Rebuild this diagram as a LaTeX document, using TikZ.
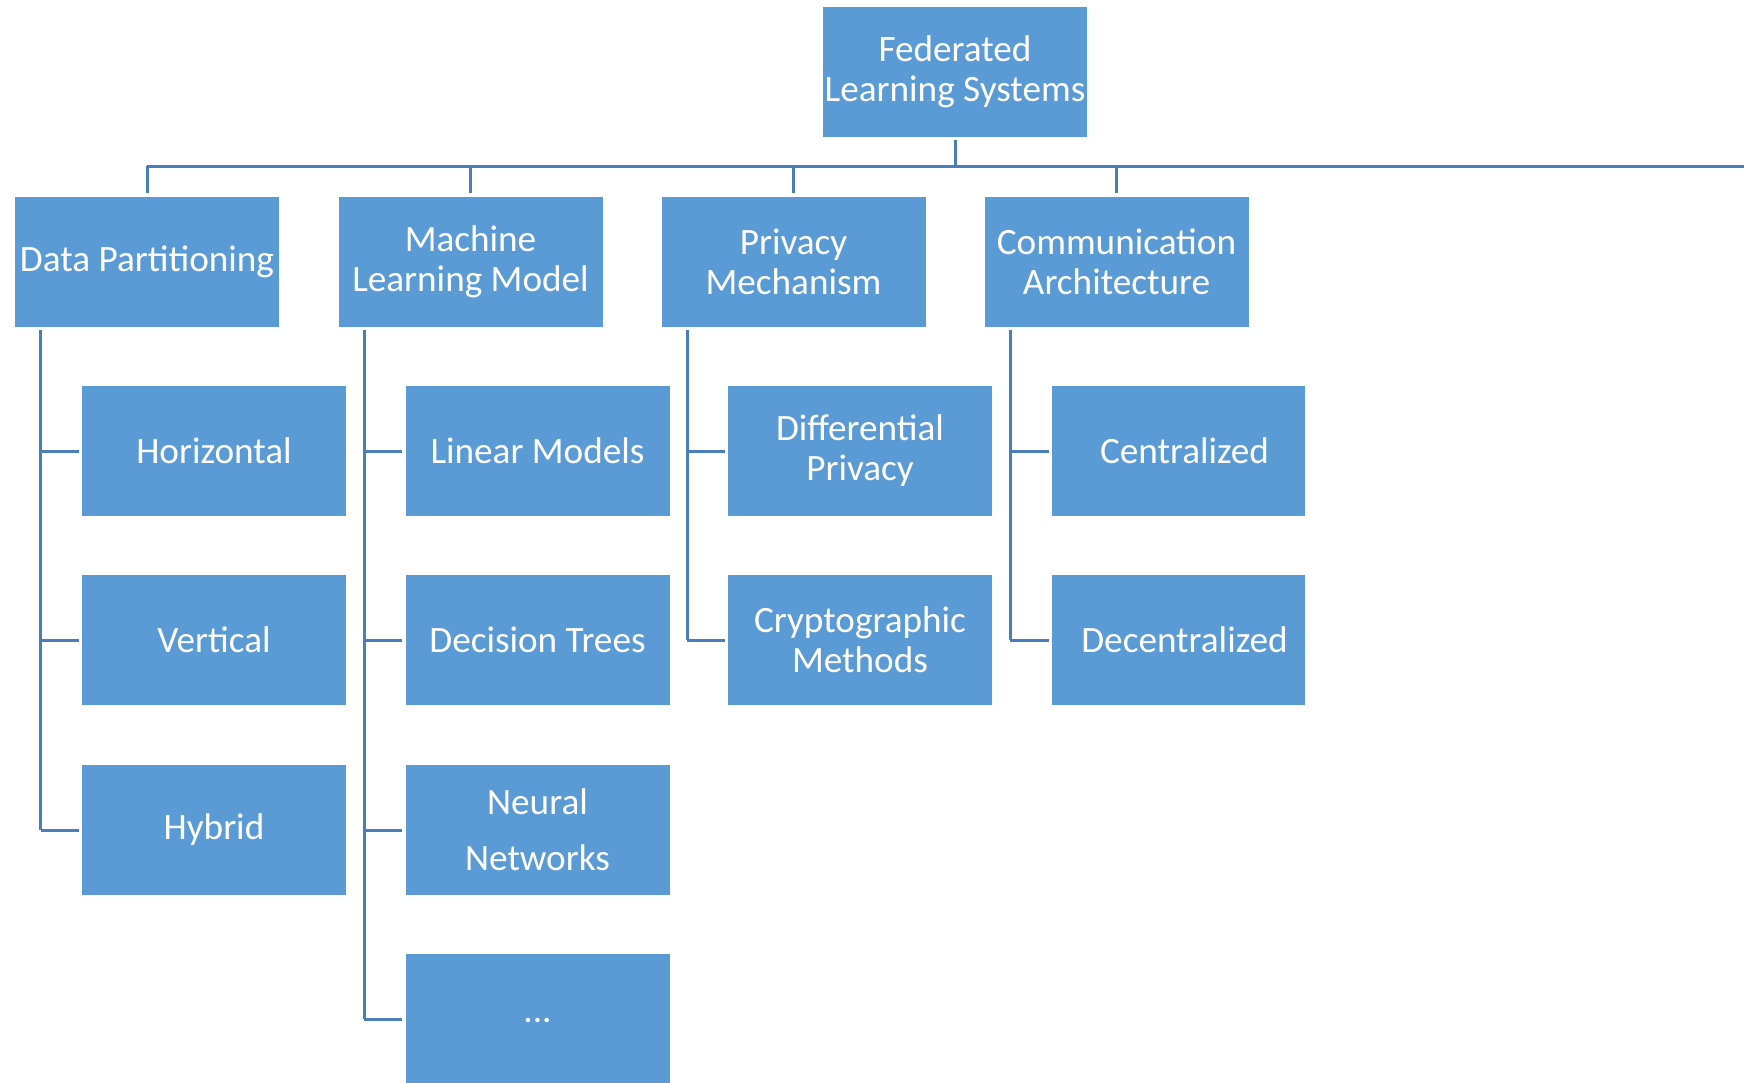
\documentclass[tikz,border=0pt]{standalone}
\usepackage{fontspec}
\setmainfont{Carlito}
\definecolor{boxblue}{HTML}{5B9BD5}
\definecolor{lineblue}{HTML}{4A7EBB}
\begin{document}
\begin{tikzpicture}[x=0.5pt,y=-0.5pt,
  box/.style={fill=boxblue,text=white,align=center,inner sep=0pt,
    minimum width=132pt,minimum height=65pt,
    font=\fontsize{18.6}{20}\selectfont},
  narrowbox/.style={box,minimum width=126.5pt},
  conn/.style={draw=lineblue,line width=1.5pt}]
\useasboundingbox (0,0) rectangle (1744,1082);

% root
\node[box] (root) at (955,72) {Federated\\Learning Systems};

% first level
\node[box] (dp) at (147,262)   {Data Partitioning};
\node[box] (ml) at (470.5,262) {Machine\\Learning Model};
\node[box] (pm) at (793.5,262) {Privacy\\Mechanism};
\node[box] (ca) at (1116.5,262) {Communication\\Architecture};

% second level
\node[box] (hor) at (214,451) {Horizontal};
\node[box] (ver) at (214,640) {Vertical};
\node[box] (hyb) at (214,830) {Hybrid};

\node[box] (lin) at (537.5,451) {Linear Models};
\node[box] (dt)  at (537.5,640) {Decision Trees};
\node[box,font=\fontsize{18.6}{28}\selectfont] (nn) at (537.5,830) {Neural\\Networks};
\node[box] (etc) at (537.5,1019) {\raisebox{-4pt}{...}};

\node[box] (dp2) at (860,451) {Differential\\Privacy};
\node[box] (cm)  at (860,640) {Cryptographic\\Methods};

\node[narrowbox] (cen) at (1178.5,451) {\hspace*{6pt}Centralized};
\node[narrowbox] (dec) at (1178.5,640) {\hspace*{6pt}Decentralized};

% bus below the root
\coordinate (bus) at (0,166);
\coordinate (busend) at (1744,166);
\draw[conn] ([yshift=-1.5pt]root.south) -- (root.south |- bus);
\draw[conn] (dp.north |- bus) -- (busend);
\foreach \n in {dp,ml,pm,ca}
  \draw[conn] (\n.north |- bus) -- ([yshift=2pt]\n.north);

% trunks and branches
\foreach \p/\last/\kids in {dp/hyb/{hor,ver,hyb}, ml/etc/{lin,dt,nn,etc}, pm/cm/{dp2,cm}, ca/dec/{cen,dec}} {
  \coordinate (t) at ([shift={(13pt,-1.5pt)}]\p.south west);
  \draw[conn] (t) -- (t |- \last.west);
  \foreach \k in \kids
    \draw[conn] (t |- \k.west) -- ([xshift=-1.5pt]\k.west);
}
\end{tikzpicture}
\end{document}
